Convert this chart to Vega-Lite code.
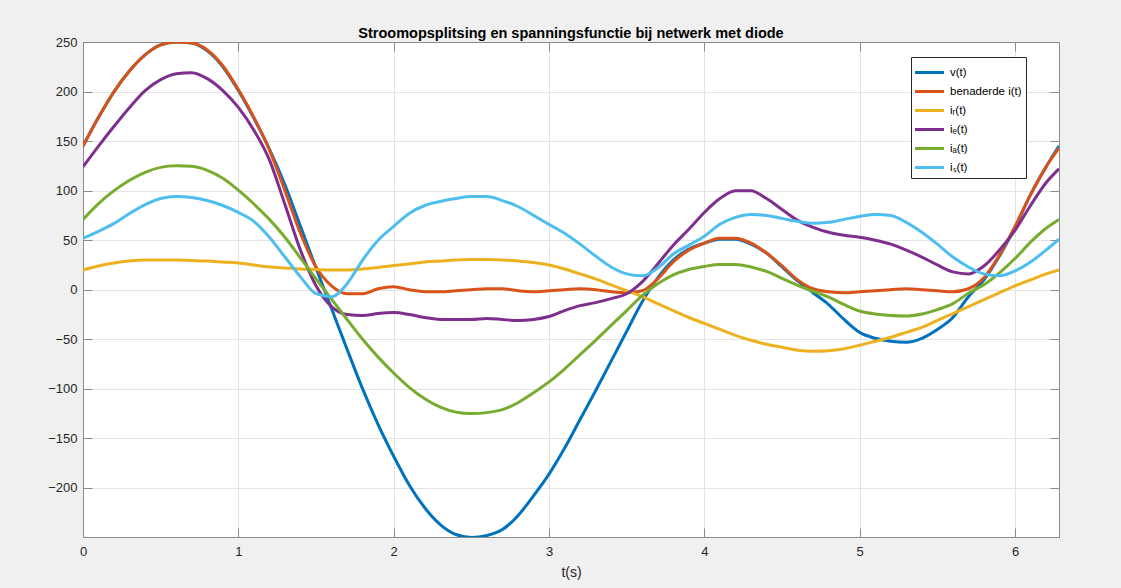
{
  "$schema": "https://vega.github.io/schema/vega-lite/v6.json",
  "width": 976,
  "height": 495,
  "autosize": {"type": "none"},
  "padding": {"left": 83, "top": 42, "right": 62, "bottom": 51},
  "background": "#f0f0f0",
  "view": {"fill": "white", "stroke": "#8a8a8a", "strokeWidth": 1},
  "config": {"font": "Liberation Sans"},
  "title": {"text": "Stroomopsplitsing en spanningsfunctie bij netwerk met diode", "fontSize": 14.5, "fontWeight": "bold", "font": "Liberation Sans", "color": "#000000", "offset": -5, "anchor": "middle"},
  "data": {"values": [
{"t":0,"s":"v","y":145},{"t":0.1,"s":"v","y":174},{"t":0.2,"s":"v","y":200},{"t":0.3,"s":"v","y":221},{"t":0.4,"s":"v","y":237},{"t":0.5,"s":"v","y":247},{"t":0.6,"s":"v","y":250},{"t":0.7,"s":"v","y":249},{"t":0.8,"s":"v","y":241},{"t":0.9,"s":"v","y":225},
{"t":1,"s":"v","y":201},{"t":1.1,"s":"v","y":173},{"t":1.2,"s":"v","y":142},{"t":1.3,"s":"v","y":106},{"t":1.4,"s":"v","y":64},{"t":1.5,"s":"v","y":22},{"t":1.6,"s":"v","y":-19},{"t":1.7,"s":"v","y":-60},{"t":1.8,"s":"v","y":-100},{"t":1.9,"s":"v","y":-136},
{"t":2,"s":"v","y":-168},{"t":2.1,"s":"v","y":-197},{"t":2.2,"s":"v","y":-220},{"t":2.3,"s":"v","y":-237},{"t":2.4,"s":"v","y":-247},{"t":2.5,"s":"v","y":-250},{"t":2.6,"s":"v","y":-248},{"t":2.7,"s":"v","y":-242},{"t":2.8,"s":"v","y":-228},{"t":2.9,"s":"v","y":-208},
{"t":3,"s":"v","y":-186},{"t":3.1,"s":"v","y":-160},{"t":3.2,"s":"v","y":-131},{"t":3.3,"s":"v","y":-102},{"t":3.4,"s":"v","y":-72},{"t":3.5,"s":"v","y":-42},{"t":3.6,"s":"v","y":-12},{"t":3.7,"s":"v","y":12},{"t":3.8,"s":"v","y":30},{"t":3.9,"s":"v","y":41},
{"t":4,"s":"v","y":47},{"t":4.1,"s":"v","y":51},{"t":4.2,"s":"v","y":51},{"t":4.3,"s":"v","y":46},{"t":4.4,"s":"v","y":37},{"t":4.5,"s":"v","y":23},{"t":4.6,"s":"v","y":9},{"t":4.7,"s":"v","y":-3},{"t":4.8,"s":"v","y":-15},{"t":4.9,"s":"v","y":-30},
{"t":5,"s":"v","y":-43},{"t":5.1,"s":"v","y":-49},{"t":5.2,"s":"v","y":-52},{"t":5.3,"s":"v","y":-53},{"t":5.4,"s":"v","y":-49},{"t":5.5,"s":"v","y":-40},{"t":5.6,"s":"v","y":-28},{"t":5.7,"s":"v","y":-7},{"t":5.8,"s":"v","y":10},{"t":5.9,"s":"v","y":34},
{"t":6,"s":"v","y":63},{"t":6.1,"s":"v","y":96},{"t":6.2,"s":"v","y":124},{"t":6.2832,"s":"v","y":145},

{"t":0,"s":"i","y":145},{"t":0.1,"s":"i","y":174},{"t":0.2,"s":"i","y":200},{"t":0.3,"s":"i","y":221},{"t":0.4,"s":"i","y":237},{"t":0.5,"s":"i","y":247},{"t":0.6,"s":"i","y":250},{"t":0.7,"s":"i","y":249},{"t":0.8,"s":"i","y":242},{"t":0.9,"s":"i","y":226},
{"t":1,"s":"i","y":202},{"t":1.1,"s":"i","y":174},{"t":1.2,"s":"i","y":141},{"t":1.3,"s":"i","y":100},{"t":1.4,"s":"i","y":57},{"t":1.5,"s":"i","y":23},{"t":1.6,"s":"i","y":4},{"t":1.7,"s":"i","y":-4},{"t":1.8,"s":"i","y":-4},{"t":1.9,"s":"i","y":1},
{"t":2,"s":"i","y":3},{"t":2.1,"s":"i","y":0},{"t":2.2,"s":"i","y":-2},{"t":2.3,"s":"i","y":-2},{"t":2.4,"s":"i","y":-1},{"t":2.5,"s":"i","y":0},{"t":2.6,"s":"i","y":1},{"t":2.7,"s":"i","y":1},{"t":2.8,"s":"i","y":-1},{"t":2.9,"s":"i","y":-2},
{"t":3,"s":"i","y":-1},{"t":3.1,"s":"i","y":0},{"t":3.2,"s":"i","y":1},{"t":3.3,"s":"i","y":0},{"t":3.4,"s":"i","y":-2},{"t":3.5,"s":"i","y":-3},{"t":3.6,"s":"i","y":-1},{"t":3.7,"s":"i","y":11},{"t":3.8,"s":"i","y":28},{"t":3.9,"s":"i","y":40},
{"t":4,"s":"i","y":47},{"t":4.1,"s":"i","y":52},{"t":4.2,"s":"i","y":52},{"t":4.3,"s":"i","y":47},{"t":4.4,"s":"i","y":37},{"t":4.5,"s":"i","y":24},{"t":4.6,"s":"i","y":10},{"t":4.7,"s":"i","y":1},{"t":4.8,"s":"i","y":-2},{"t":4.9,"s":"i","y":-3},
{"t":5,"s":"i","y":-2},{"t":5.1,"s":"i","y":-1},{"t":5.2,"s":"i","y":0},{"t":5.3,"s":"i","y":1},{"t":5.4,"s":"i","y":0},{"t":5.5,"s":"i","y":-1},{"t":5.6,"s":"i","y":-2},{"t":5.7,"s":"i","y":1},{"t":5.8,"s":"i","y":12},{"t":5.9,"s":"i","y":35},
{"t":6,"s":"i","y":64},{"t":6.1,"s":"i","y":96},{"t":6.2,"s":"i","y":124},{"t":6.2832,"s":"i","y":143},

{"t":0,"s":"r","y":20},{"t":0.1,"s":"r","y":24},{"t":0.2,"s":"r","y":27},{"t":0.3,"s":"r","y":29},{"t":0.4,"s":"r","y":30},{"t":0.5,"s":"r","y":30},{"t":0.6,"s":"r","y":30},{"t":0.7,"s":"r","y":29.5},{"t":0.8,"s":"r","y":29},{"t":0.9,"s":"r","y":28},
{"t":1,"s":"r","y":27},{"t":1.1,"s":"r","y":25},{"t":1.2,"s":"r","y":23},{"t":1.3,"s":"r","y":22},{"t":1.4,"s":"r","y":21},{"t":1.5,"s":"r","y":20.5},{"t":1.6,"s":"r","y":20},{"t":1.7,"s":"r","y":20},{"t":1.8,"s":"r","y":21},{"t":1.9,"s":"r","y":22.5},
{"t":2,"s":"r","y":24.5},{"t":2.1,"s":"r","y":26},{"t":2.2,"s":"r","y":28},{"t":2.3,"s":"r","y":29},{"t":2.4,"s":"r","y":30},{"t":2.5,"s":"r","y":30.5},{"t":2.6,"s":"r","y":30.5},{"t":2.7,"s":"r","y":30},{"t":2.8,"s":"r","y":29},{"t":2.9,"s":"r","y":27.5},
{"t":3,"s":"r","y":25},{"t":3.1,"s":"r","y":21},{"t":3.2,"s":"r","y":16},{"t":3.3,"s":"r","y":11},{"t":3.4,"s":"r","y":5},{"t":3.5,"s":"r","y":-1},{"t":3.6,"s":"r","y":-7},{"t":3.7,"s":"r","y":-14},{"t":3.8,"s":"r","y":-21},{"t":3.9,"s":"r","y":-28},
{"t":4,"s":"r","y":-34},{"t":4.1,"s":"r","y":-40},{"t":4.2,"s":"r","y":-46},{"t":4.3,"s":"r","y":-51},{"t":4.4,"s":"r","y":-55},{"t":4.5,"s":"r","y":-58},{"t":4.6,"s":"r","y":-61},{"t":4.7,"s":"r","y":-62},{"t":4.8,"s":"r","y":-61.5},{"t":4.9,"s":"r","y":-59.5},
{"t":5,"s":"r","y":-56},{"t":5.1,"s":"r","y":-52},{"t":5.2,"s":"r","y":-48},{"t":5.3,"s":"r","y":-43},{"t":5.4,"s":"r","y":-38},{"t":5.5,"s":"r","y":-31},{"t":5.6,"s":"r","y":-24},{"t":5.7,"s":"r","y":-17},{"t":5.8,"s":"r","y":-10},{"t":5.9,"s":"r","y":-3},
{"t":6,"s":"r","y":4},{"t":6.1,"s":"r","y":10},{"t":6.2,"s":"r","y":16},{"t":6.2832,"s":"r","y":20},

{"t":0,"s":"e","y":124},{"t":0.1,"s":"e","y":145},{"t":0.2,"s":"e","y":165},{"t":0.3,"s":"e","y":184},{"t":0.4,"s":"e","y":201},{"t":0.5,"s":"e","y":212},{"t":0.6,"s":"e","y":218},{"t":0.7,"s":"e","y":219},{"t":0.8,"s":"e","y":213},{"t":0.9,"s":"e","y":201},
{"t":1,"s":"e","y":184},{"t":1.1,"s":"e","y":161},{"t":1.2,"s":"e","y":131},{"t":1.3,"s":"e","y":86},{"t":1.4,"s":"e","y":40},{"t":1.5,"s":"e","y":4},{"t":1.6,"s":"e","y":-17},{"t":1.7,"s":"e","y":-25},{"t":1.8,"s":"e","y":-26},{"t":1.9,"s":"e","y":-24},
{"t":2,"s":"e","y":-23},{"t":2.1,"s":"e","y":-25},{"t":2.2,"s":"e","y":-28},{"t":2.3,"s":"e","y":-30},{"t":2.4,"s":"e","y":-30},{"t":2.5,"s":"e","y":-30},{"t":2.6,"s":"e","y":-29},{"t":2.7,"s":"e","y":-30},{"t":2.8,"s":"e","y":-31},{"t":2.9,"s":"e","y":-30},
{"t":3,"s":"e","y":-27},{"t":3.1,"s":"e","y":-21},{"t":3.2,"s":"e","y":-16},{"t":3.3,"s":"e","y":-13},{"t":3.4,"s":"e","y":-9},{"t":3.5,"s":"e","y":-4},{"t":3.6,"s":"e","y":8},{"t":3.7,"s":"e","y":26},{"t":3.8,"s":"e","y":45},{"t":3.9,"s":"e","y":61},
{"t":4,"s":"e","y":78},{"t":4.1,"s":"e","y":92},{"t":4.2,"s":"e","y":100},{"t":4.3,"s":"e","y":100},{"t":4.4,"s":"e","y":92},{"t":4.5,"s":"e","y":81},{"t":4.6,"s":"e","y":70},{"t":4.7,"s":"e","y":63},{"t":4.8,"s":"e","y":58},{"t":4.9,"s":"e","y":55},
{"t":5,"s":"e","y":53},{"t":5.1,"s":"e","y":50},{"t":5.2,"s":"e","y":46},{"t":5.3,"s":"e","y":40},{"t":5.4,"s":"e","y":33},{"t":5.5,"s":"e","y":25},{"t":5.6,"s":"e","y":18},{"t":5.7,"s":"e","y":16},{"t":5.8,"s":"e","y":24},{"t":5.9,"s":"e","y":40},
{"t":6,"s":"e","y":60},{"t":6.1,"s":"e","y":85},{"t":6.2,"s":"e","y":108},{"t":6.2832,"s":"e","y":122},

{"t":0,"s":"a","y":71},{"t":0.1,"s":"a","y":87},{"t":0.2,"s":"a","y":100},{"t":0.3,"s":"a","y":110.5},{"t":0.4,"s":"a","y":118.5},{"t":0.5,"s":"a","y":123.5},{"t":0.6,"s":"a","y":125},{"t":0.7,"s":"a","y":124.5},{"t":0.8,"s":"a","y":120.5},{"t":0.9,"s":"a","y":112.5},
{"t":1,"s":"a","y":100.5},{"t":1.1,"s":"a","y":86.5},{"t":1.2,"s":"a","y":71},{"t":1.3,"s":"a","y":53},{"t":1.4,"s":"a","y":32},{"t":1.5,"s":"a","y":11},{"t":1.6,"s":"a","y":-9.5},{"t":1.7,"s":"a","y":-30},{"t":1.8,"s":"a","y":-50},{"t":1.9,"s":"a","y":-68},
{"t":2,"s":"a","y":-84},{"t":2.1,"s":"a","y":-98.5},{"t":2.2,"s":"a","y":-110},{"t":2.3,"s":"a","y":-118.5},{"t":2.4,"s":"a","y":-123.5},{"t":2.5,"s":"a","y":-125},{"t":2.6,"s":"a","y":-124},{"t":2.7,"s":"a","y":-121},{"t":2.8,"s":"a","y":-114},{"t":2.9,"s":"a","y":-104},
{"t":3,"s":"a","y":-93},{"t":3.1,"s":"a","y":-80},{"t":3.2,"s":"a","y":-65.5},{"t":3.3,"s":"a","y":-51},{"t":3.4,"s":"a","y":-36},{"t":3.5,"s":"a","y":-21},{"t":3.6,"s":"a","y":-6},{"t":3.7,"s":"a","y":6},{"t":3.8,"s":"a","y":15},{"t":3.9,"s":"a","y":20.5},
{"t":4,"s":"a","y":23.5},{"t":4.1,"s":"a","y":25.5},{"t":4.2,"s":"a","y":25.5},{"t":4.3,"s":"a","y":23},{"t":4.4,"s":"a","y":18.5},{"t":4.5,"s":"a","y":11.5},{"t":4.6,"s":"a","y":4.5},{"t":4.7,"s":"a","y":-1.5},{"t":4.8,"s":"a","y":-7.5},{"t":4.9,"s":"a","y":-15},
{"t":5,"s":"a","y":-21.5},{"t":5.1,"s":"a","y":-24.5},{"t":5.2,"s":"a","y":-26},{"t":5.3,"s":"a","y":-26.5},{"t":5.4,"s":"a","y":-24.5},{"t":5.5,"s":"a","y":-20},{"t":5.6,"s":"a","y":-14},{"t":5.7,"s":"a","y":-3.5},{"t":5.8,"s":"a","y":5},{"t":5.9,"s":"a","y":17},
{"t":6,"s":"a","y":31.5},{"t":6.1,"s":"a","y":48},{"t":6.2,"s":"a","y":62},{"t":6.2832,"s":"a","y":71},

{"t":0,"s":"s","y":52},{"t":0.1,"s":"s","y":59},{"t":0.2,"s":"s","y":67},{"t":0.3,"s":"s","y":77},{"t":0.4,"s":"s","y":86},{"t":0.5,"s":"s","y":92},{"t":0.6,"s":"s","y":94},{"t":0.7,"s":"s","y":93},{"t":0.8,"s":"s","y":90},{"t":0.9,"s":"s","y":85},
{"t":1,"s":"s","y":78},{"t":1.1,"s":"s","y":69},{"t":1.2,"s":"s","y":53},{"t":1.3,"s":"s","y":33},{"t":1.4,"s":"s","y":13},{"t":1.5,"s":"s","y":-4},{"t":1.6,"s":"s","y":-7},{"t":1.7,"s":"s","y":6},{"t":1.8,"s":"s","y":30},{"t":1.9,"s":"s","y":50},
{"t":2,"s":"s","y":64},{"t":2.1,"s":"s","y":77},{"t":2.2,"s":"s","y":85},{"t":2.3,"s":"s","y":89},{"t":2.4,"s":"s","y":92},{"t":2.5,"s":"s","y":94},{"t":2.6,"s":"s","y":94},{"t":2.7,"s":"s","y":90},{"t":2.8,"s":"s","y":84},{"t":2.9,"s":"s","y":75},
{"t":3,"s":"s","y":66},{"t":3.1,"s":"s","y":57},{"t":3.2,"s":"s","y":46},{"t":3.3,"s":"s","y":34},{"t":3.4,"s":"s","y":23},{"t":3.5,"s":"s","y":16},{"t":3.6,"s":"s","y":14},{"t":3.7,"s":"s","y":22},{"t":3.8,"s":"s","y":36},{"t":3.9,"s":"s","y":45},
{"t":4,"s":"s","y":54},{"t":4.1,"s":"s","y":66},{"t":4.2,"s":"s","y":73},{"t":4.3,"s":"s","y":76},{"t":4.4,"s":"s","y":75},{"t":4.5,"s":"s","y":72},{"t":4.6,"s":"s","y":69},{"t":4.7,"s":"s","y":67},{"t":4.8,"s":"s","y":68},{"t":4.9,"s":"s","y":71},
{"t":5,"s":"s","y":74},{"t":5.1,"s":"s","y":76},{"t":5.2,"s":"s","y":75},{"t":5.3,"s":"s","y":68},{"t":5.4,"s":"s","y":58},{"t":5.5,"s":"s","y":46},{"t":5.6,"s":"s","y":33},{"t":5.7,"s":"s","y":23},{"t":5.8,"s":"s","y":16},{"t":5.9,"s":"s","y":14},
{"t":6,"s":"s","y":19},{"t":6.1,"s":"s","y":28},{"t":6.2,"s":"s","y":40},{"t":6.2832,"s":"s","y":51}
  ]},
  "layer": [
    {
      "mark": {"type": "line", "strokeWidth": 3, "interpolate": "monotone", "clip": true},
      "encoding": {
        "x": {"field": "t", "type": "quantitative", "scale": {"domain": [0, 6.2832], "nice": false, "zero": false},
          "axis": {"orient": "bottom", "values": [0, 1, 2, 3, 4, 5, 6], "title": "t(s)", "titleFont": "Liberation Sans", "titleFontSize": 14, "titleFontWeight": "normal", "titleColor": "#262626", "titlePadding": 7, "labelFont": "Liberation Sans", "labelFontSize": 13, "labelColor": "#262626", "labelPadding": 17, "tickSize": -9, "tickColor": "#8a8a8a", "domainColor": "#8a8a8a", "grid": true, "gridColor": "#e3e3e3", "labelFlush": false}},
        "y": {"field": "y", "type": "quantitative", "scale": {"domain": [-249.5, 250], "nice": false, "zero": false},
          "axis": {"orient": "left", "values": [-200, -150, -100, -50, 0, 50, 100, 150, 200, 250], "title": null, "labelFont": "Liberation Sans", "labelFontSize": 13, "labelColor": "#262626", "labelPadding": 15, "tickSize": -9, "tickColor": "#8a8a8a", "domainColor": "#8a8a8a", "grid": true, "gridColor": "#e3e3e3", "labelFlush": false}},
        "color": {"field": "s", "type": "nominal",
          "scale": {"domain": ["v", "i", "r", "e", "a", "s"], "range": ["#0072BD", "#D95319", "#EDB120", "#7E2F8E", "#77AC30", "#4DBEEE"]},
          "legend": {"title": null, "orient": "none", "legendX": 828, "legendY": 15, "symbolType": "M-1.45,0L1.45,0", "symbolStrokeWidth": 3, "symbolSize": 400, "symbolOffset": 3, "labelFont": "Liberation Sans", "labelFontSize": 11.5, "labelColor": "#000000", "labelOffset": 9, "strokeColor": "#262626", "fillColor": "white", "padding": 4, "rowPadding": 1,
            "labelExpr": "{'v':'v(t)','i':'benaderde i(t)','r':'iᵣ(t)','e':'iₑ(t)','a':'iₐ(t)','s':'iₛ(t)'}[datum.value]"}
        }
      }
    },
    {
      "mark": {"type": "line", "opacity": 0},
      "encoding": {
        "x": {"field": "t", "type": "quantitative", "scale": {"domain": [0, 6.2832], "nice": false, "zero": false},
          "axis": {"orient": "top", "values": [0, 1, 2, 3, 4, 5, 6], "title": null, "labels": false, "tickSize": -9, "tickColor": "#8a8a8a", "domainColor": "#8a8a8a", "grid": false}},
        "y": {"field": "y", "type": "quantitative", "scale": {"domain": [-249.5, 250], "nice": false, "zero": false},
          "axis": {"orient": "right", "values": [-200, -150, -100, -50, 0, 50, 100, 150, 200, 250], "title": null, "labels": false, "tickSize": -9, "tickColor": "#8a8a8a", "domainColor": "#8a8a8a", "grid": false}},
        "detail": {"field": "s", "type": "nominal"}
      }
    }
  ],
  "resolve": {"axis": {"x": "independent", "y": "independent"}}
}
